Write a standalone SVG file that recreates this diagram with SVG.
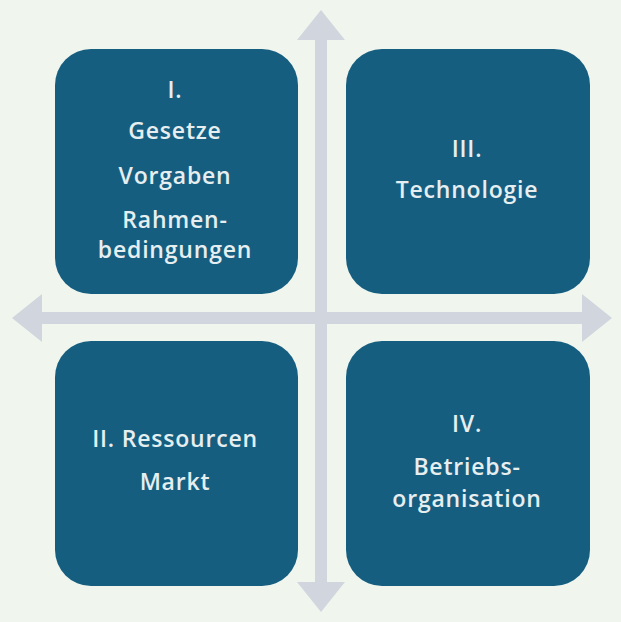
<svg xmlns="http://www.w3.org/2000/svg" width="621" height="622" viewBox="0 0 621 622">
<style>
.box{fill:#165e80}
.ar{fill:#d1d6de}
.t{font-family:"Open Sans","Liberation Sans",sans-serif;font-weight:600;font-size:23px;fill:#e6eef0;text-anchor:middle;letter-spacing:0.8px}
</style>
<rect width="621" height="622" fill="#f0f6ee"/>
<g id="connectors">
<rect class="ar" x="315" y="36" width="12" height="552"/>
<polygon class="ar" points="321,10 345,40 297,40"/>
<polygon class="ar" points="321,612 345,582 297,582"/>
<rect class="ar" x="38" y="312" width="548" height="12"/>
<polygon class="ar" points="12,318 42,294 42,342"/>
<polygon class="ar" points="612,318 582,294 582,342"/>
</g>
<g id="node1">
<rect class="box" x="55" y="49" width="243" height="245" rx="36"/>
<text class="t" x="175" y="98">I.</text>
<text class="t" x="175" y="139">Gesetze</text>
<text class="t" x="175" y="184">Vorgaben</text>
<text class="t" x="175" y="228">Rahmen-</text>
<text class="t" x="175" y="258">bedingungen</text>
</g>
<g id="node3">
<rect class="box" x="346" y="49" width="244" height="245" rx="36"/>
<text class="t" x="467" y="157">III.</text>
<text class="t" x="467" y="198">Technologie</text>
</g>
<g id="node2">
<rect class="box" x="55" y="341" width="243" height="245" rx="36"/>
<text class="t" x="175" y="447">II. Ressourcen</text>
<text class="t" x="175" y="490">Markt</text>
</g>
<g id="node4">
<rect class="box" x="346" y="341" width="244" height="245" rx="36"/>
<text class="t" x="467" y="432">IV.</text>
<text class="t" x="467" y="475">Betriebs-</text>
<text class="t" x="467" y="507">organisation</text>
</g>
</svg>
